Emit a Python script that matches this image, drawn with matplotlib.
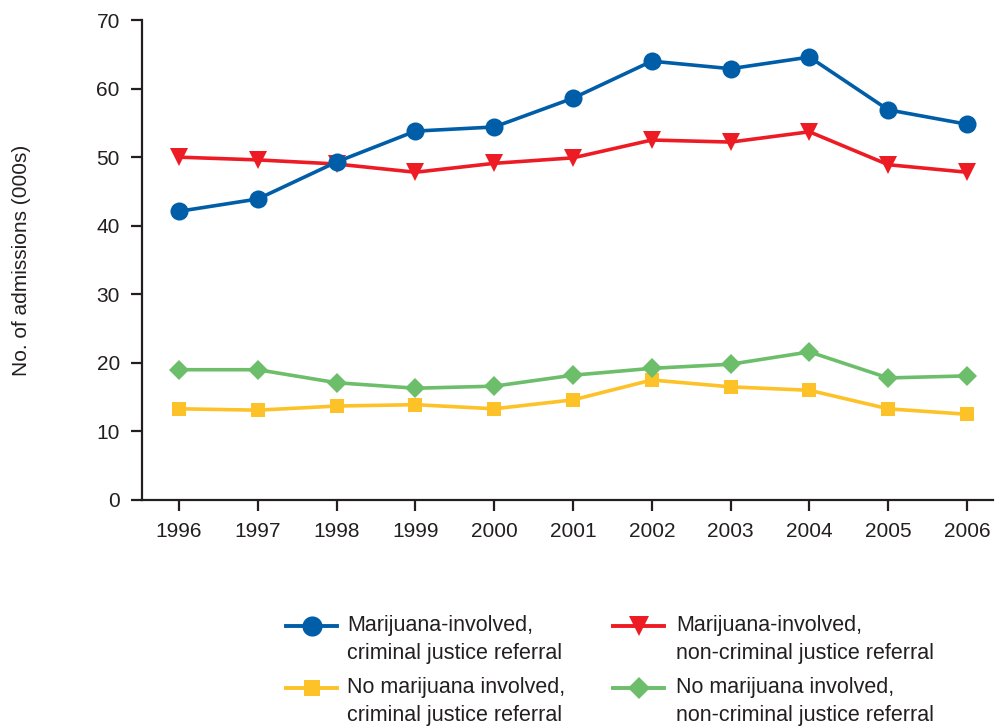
import matplotlib
matplotlib.use('Agg')
import matplotlib.pyplot as plt
from matplotlib.lines import Line2D

plt.rcParams['font.family'] = ['Liberation Sans', 'DejaVu Sans']

years = [1996, 1997, 1998, 1999, 2000, 2001, 2002, 2003, 2004, 2005, 2006]
mj_cj = [42.1, 43.9, 49.3, 53.8, 54.4, 58.6, 64.0, 62.9, 64.6, 56.9, 54.8]
mj_noncj = [50.0, 49.6, 49.0, 47.8, 49.1, 49.9, 52.5, 52.2, 53.7, 48.9, 47.8]
nomj_cj = [13.3, 13.1, 13.7, 13.9, 13.3, 14.6, 17.5, 16.5, 16.0, 13.3, 12.5]
nomj_noncj = [19.0, 19.0, 17.1, 16.3, 16.6, 18.2, 19.2, 19.8, 21.6, 17.8, 18.1]

series = [
    (mj_cj, '#005EA8', 'o', 13, ['Marijuana-involved,', 'criminal justice referral']),
    (mj_noncj, '#ED1C24', 'v', 13, ['Marijuana-involved,', 'non-criminal justice referral']),
    (nomj_cj, '#FDC228', 's', 10.5, ['No marijuana involved,', 'criminal justice referral']),
    (nomj_noncj, '#6DBE6B', 'D', 10, ['No marijuana involved,', 'non-criminal justice referral']),
]
ink = '#231F20'

fig = plt.figure(figsize=(9.97, 7.28), dpi=100)
ax = fig.add_axes([0.1424, 0.3132, 0.8536, 0.6593])

# draw in order so blue sits on top
for vals, col, mk, ms, _ in [series[2], series[3], series[1], series[0]]:
    ax.plot(years, vals, color=col, marker=mk, markersize=ms, linewidth=2.6,
            markeredgewidth=0, clip_on=False)

ax.set_xlim(1995.53, 2006.33)
ax.set_ylim(0, 70)
ax.set_xticks(years)
ax.set_yticks(range(0, 71, 10))
for s in ['top', 'right']:
    ax.spines[s].set_visible(False)
for s in ['left', 'bottom']:
    ax.spines[s].set_linewidth(1.6)
    ax.spines[s].set_color(ink)
ax.tick_params(direction='out', length=8, width=1.6, color=ink,
               labelsize=15, labelcolor=ink, pad=8)
fig.text(22 / 997, 1 - 260 / 728, 'No. of admissions (000s)', fontsize=15, color=ink,
         rotation=90, ha='center', va='center')

# legend, built by hand so each handle lines up with the first text line
W, H = 997, 728
cols = [(286, 347), (613, 676)]
rows = [626, 688]
for i, (vals, col, mk, ms, lines) in enumerate(series):
    hx, tx = cols[i % 2]
    py = rows[i // 2]
    y = 1 - py / H
    fig.add_artist(Line2D([hx / W, (hx + 51) / W], [y, y], color=col, linewidth=2.8,
                          transform=fig.transFigure))
    fig.add_artist(Line2D([(hx + 26) / W], [y], color=col, marker=mk, markersize=ms + 1.5,
                          markeredgewidth=0, transform=fig.transFigure))
    fig.text(tx / W, y, lines[0], fontsize=15.5, color=ink, va='center')
    fig.text(tx / W, 1 - (py + 27) / H, lines[1], fontsize=15.5, color=ink, va='center')

fig.savefig('out.png', dpi=100)
